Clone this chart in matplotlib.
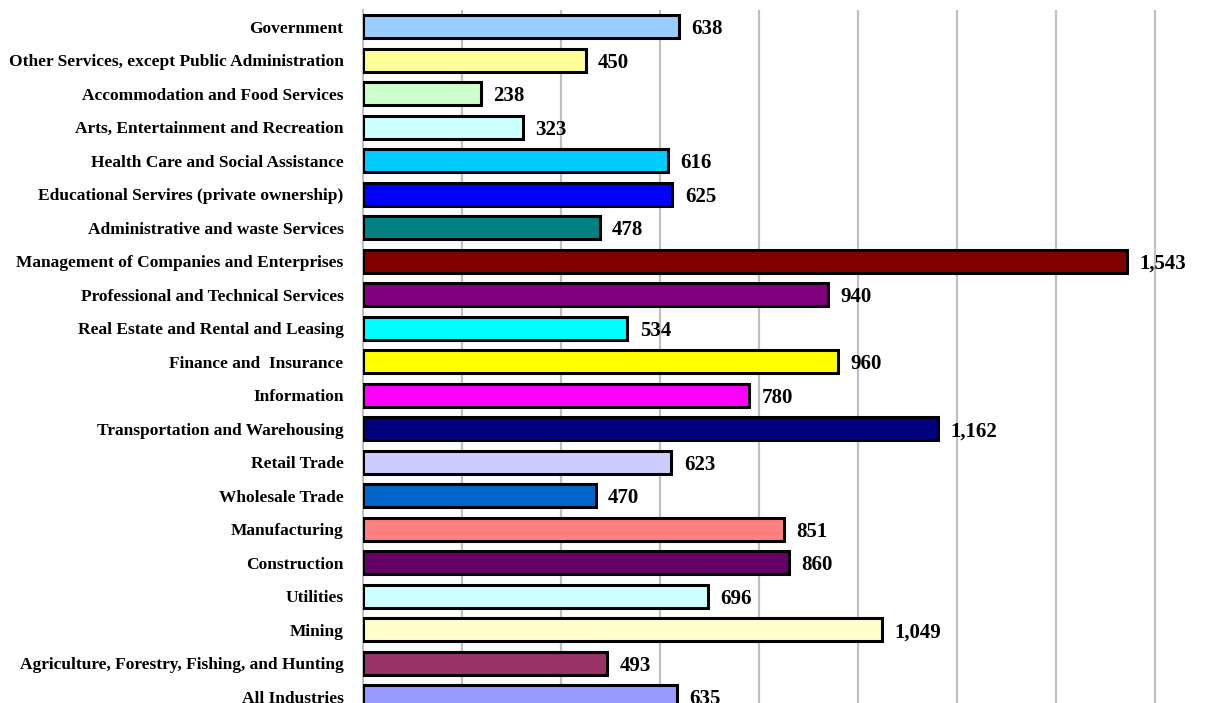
import matplotlib
matplotlib.use("Agg")
import matplotlib.pyplot as plt

categories = [
    "Government",
    "Other Services, except Public Administration",
    "Accommodation and Food Services",
    "Arts, Entertainment and Recreation",
    "Health Care and Social Assistance",
    "Educational Servires (private ownership)",
    "Administrative and waste Services",
    "Management of Companies and Enterprises",
    "Professional and Technical Services",
    "Real Estate and Rental and Leasing",
    "Finance and  Insurance",
    "Information",
    "Transportation and Warehousing",
    "Retail Trade",
    "Wholesale Trade",
    "Manufacturing",
    "Construction",
    "Utilities",
    "Mining",
    "Agriculture, Forestry, Fishing, and Hunting",
    "All Industries",
]
values = [638, 450, 238, 323, 616, 625, 478, 1543, 940, 534, 960, 780,
          1162, 623, 470, 851, 860, 696, 1049, 493, 635]
colors = ["#99CCFF", "#FFFF99", "#CCFFCC", "#CCFFFF", "#00CCFF", "#0000FF",
          "#008080", "#800000", "#800080", "#00FFFF", "#FFFF00", "#FF00FF",
          "#000080", "#CCCCFF", "#0066CC", "#FF8080", "#660066", "#CCFFFF",
          "#FFFFCC", "#993366", "#9999FF"]

W, H = 1231, 703
fig = plt.figure(figsize=(W / 100, H / 100), dpi=100)
left_px, top_px, bottom_px = 363, 10, 713.5
ax = fig.add_axes([left_px / W, 1 - bottom_px / H, 1 - left_px / W, (bottom_px - top_px) / H])

n = len(categories)
ypos = list(range(n))
ax.barh(ypos, values, height=0.7, color=colors, edgecolor="black", linewidth=2.2, zorder=3)
ax.set_ylim(n - 0.5, -0.5)
xmax = (W - left_px) / (99 / 200)
ax.set_xlim(0, xmax)
ax.set_xticks(range(200, 1800, 200))
ax.tick_params(axis="x", length=0, labelbottom=False)
ax.grid(axis="x", color="#C0C0C0", linewidth=1.6, zorder=0)
ax.set_yticks(ypos)
ax.set_yticklabels(categories, fontfamily="Liberation Serif", fontweight="bold", fontsize=12.5)
ax.tick_params(axis="y", length=0, pad=14)
for s in ["top", "right", "bottom"]:
    ax.spines[s].set_visible(False)
ax.spines["left"].set_color("#C0C0C0")
ax.spines["left"].set_linewidth(1.5)

for y, v in zip(ypos, values):
    ax.text(v + 25, y, f"{v:,}", va="center_baseline", ha="left",
            fontfamily="Liberation Serif", fontweight="bold", fontsize=15, zorder=4)

fig.savefig("out.png", dpi=100)
